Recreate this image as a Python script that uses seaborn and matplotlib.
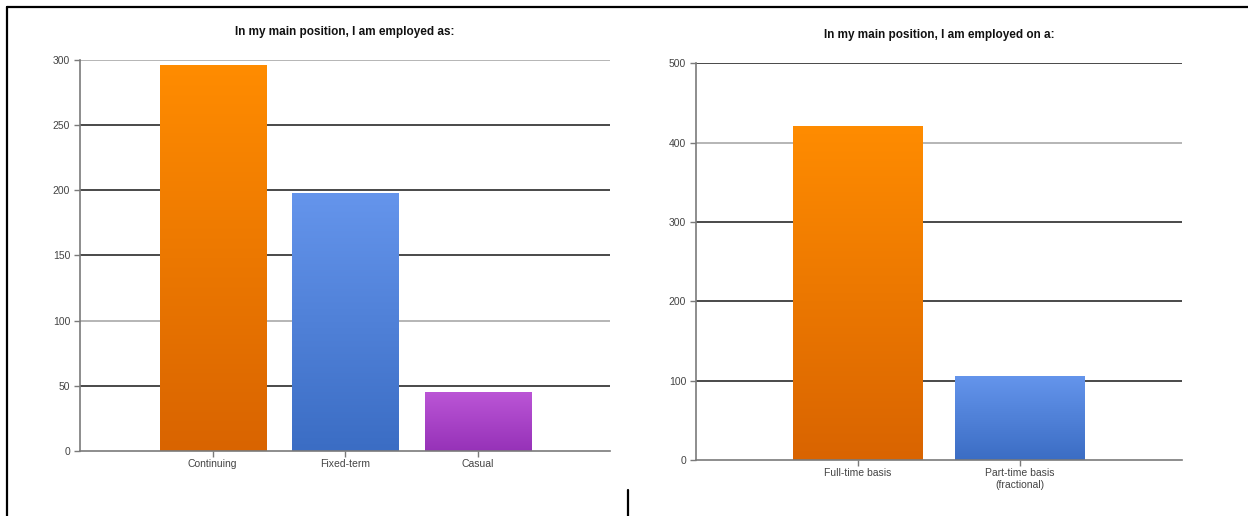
import numpy as np
import pandas as pd
import matplotlib
matplotlib.use('Agg')
import matplotlib.pyplot as plt
import seaborn as sns
from matplotlib.colors import LinearSegmentedColormap
from matplotlib.lines import Line2D

# data
left_title = 'In my main position, I am employed as:'
left_cats = ['Continuing', 'Fixed-term', 'Casual']
left_counts = [296, 198, 45]
left_ticks = [0, 50, 100, 150, 200, 250, 300]

right_title = 'In my main position, I am employed on a:'
right_cats = ['Full-time basis', 'Part-time basis\n(fractional)']
right_counts = [421, 106]
right_ticks = [0, 100, 200, 300, 400, 500]

# top and bottom colours of each bar gradient
orange = ('#ff8c00', '#d96400')
blue = ('#6595ec', '#3b6dc4')
purple = ('#bb55d6', '#9632b8')

sns.set_theme(style='white')
plt.rcParams['font.family'] = ['Liberation Sans', 'DejaVu Sans']

fig = plt.figure(figsize=(12.48, 5.16), dpi=100)
ax1 = fig.add_axes([0.0641, 0.126, 0.4247, 0.758])
ax2 = fig.add_axes([0.5577, 0.1085, 0.3894, 0.769])


def gradient_bars(ax, grads):
    # paint a vertical gradient inside every bar seaborn drew
    grad = np.linspace(0, 1, 256).reshape(-1, 1)
    for patch, (top, bottom) in zip(ax.patches, grads):
        x0, y0 = patch.get_x(), patch.get_y()
        w, h = patch.get_width(), patch.get_height()
        cmap = LinearSegmentedColormap.from_list('g', [bottom, top])
        im = ax.imshow(grad, cmap=cmap, aspect='auto', origin='lower',
                       extent=[x0, x0 + w, y0, y0 + h], zorder=2)
        im.set_clip_path(patch)
        patch.set_facecolor('none')


def style_axes(ax, title, ticks, xlim, light):
    ax.set_xlim(*xlim)
    ax.set_ylim(ticks[0], ticks[-1])
    ax.set_yticks(ticks)
    ax.set_xlabel('')
    ax.set_ylabel('')
    ax.set_axisbelow(True)
    for i, t in enumerate(ticks[1:]):
        c = '#b0b0b0' if i in light else '#3a3a3a'
        ax.axhline(t, color=c, lw=1.3, zorder=0)
    for s in ['top', 'right']:
        ax.spines[s].set_visible(False)
    for s in ['left', 'bottom']:
        ax.spines[s].set_color('#7a7a7a')
        ax.spines[s].set_linewidth(1.2)
    ax.tick_params(axis='both', direction='out', length=4, width=1,
                   color='#7a7a7a', labelsize=7.5, labelcolor='#444444', pad=2)
    ax.tick_params(axis='y', left=True, pad=3)
    ax.tick_params(axis='x', bottom=True)
    ax.set_title(title, fontsize=8.5, fontweight='bold', color='#111111', pad=18)


df1 = pd.DataFrame({'cat': left_cats, 'n': left_counts})
sns.barplot(data=df1, x='cat', y='n', ax=ax1, width=0.8, color='white', linewidth=0)
gradient_bars(ax1, [orange, blue, purple])
style_axes(ax1, left_title, left_ticks, (-1, 3), light=[1, 5])

df2 = pd.DataFrame({'cat': right_cats, 'n': right_counts})
sns.barplot(data=df2, x='cat', y='n', ax=ax2, width=0.8, color='white', linewidth=0)
gradient_bars(ax2, [orange, blue])
style_axes(ax2, right_title, right_ticks, (-1, 2), light=[3])

# frame lines of the screenshot
fig.add_artist(Line2D([7 / 1248, 1], [1 - 7 / 516, 1 - 7 / 516], color='black', lw=1.6))
fig.add_artist(Line2D([7 / 1248, 7 / 1248], [0, 1 - 7 / 516], color='black', lw=1.6))
fig.add_artist(Line2D([628 / 1248, 628 / 1248], [0, 26 / 516], color='black', lw=1.6))

fig.savefig('out.png', dpi=100)
